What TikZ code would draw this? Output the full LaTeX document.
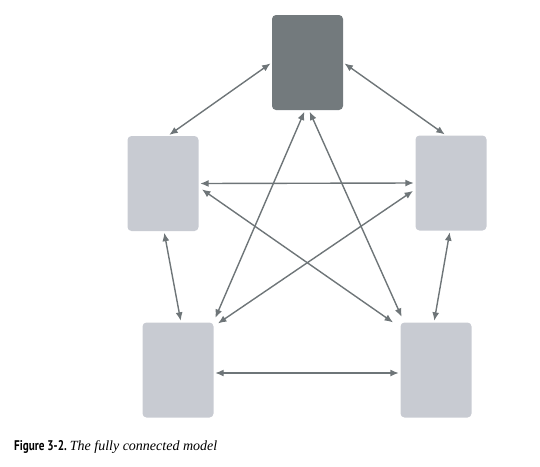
\documentclass[tikz,border=0pt]{standalone}
\usepackage{fontspec}
\setmainfont{Liberation Serif}
\setsansfont{PT Sans}
\usetikzlibrary{arrows.meta,calc}
\definecolor{darkbox}{RGB}{115,122,125}
\definecolor{lightbox}{RGB}{200,203,210}
\definecolor{arrowgray}{RGB}{110,117,120}
\tikzset{
  box/.style={rectangle, rounded corners=4pt, minimum width=71pt, minimum height=95pt, inner sep=0pt, draw=none},
  darkb/.style={box, fill=darkbox},
  lightb/.style={box, fill=lightbox},
  link/.style={arrowgray, line width=1.4pt, {Latex[length=8.5pt,width=7pt]}-{Latex[length=8.5pt,width=7pt]}, shorten <=1.5pt, shorten >=1.5pt}
}
\begin{document}
\begin{tikzpicture}[x=1pt,y=-1pt]
\useasboundingbox (0,0) rectangle (540,466);
\node[darkb] (top) at (307.5,62.5) {};
\node[lightb] (left) at (163,183.5) {};
\node[lightb] (right) at (451,183) {};
\node[lightb] (bl) at (178,370) {};
\node[lightb] (br) at (436,370) {};

\draw[link] (top.west) -- ($(left.north)+(5,0)$);
\draw[link] (top.east) -- ($(right.north)+(-5,0)$);
\draw[link] (left.east) -- (right.west);
\draw[link] ($(left.east)+(2,5)$) -- ($(br.north west)+(-6,1)$);
\draw[link] ($(right.west)+(-1,7)$) -- ($(bl.north east)+(3,2)$);
\draw[link] ($(top.south)+(-2.5,0)$) -- ($(bl.north east)+(1,-3)$);
\draw[link] ($(top.south)+(1.5,0)$) -- ($(br.north west)+(2,-4)$);
\draw[link] ($(left.south)+(1,0)$) -- ($(bl.north)+(3,0)$);
\draw[link] ($(right.south)+(-1,0)$) -- ($(br.north)+(-2,0)$);
\draw[link] ($(bl.east)+(0,3)$) -- ($(br.west)+(0,3)$);

\node[anchor=base west, inner sep=0pt] (cap) at (14,450)
  {\fontsize{14}{16}\selectfont\scalebox{0.8}[1]{\sffamily\bfseries Figure 3-2.}\hspace{3pt}\itshape The fully connected model};
\end{tikzpicture}
\end{document}
